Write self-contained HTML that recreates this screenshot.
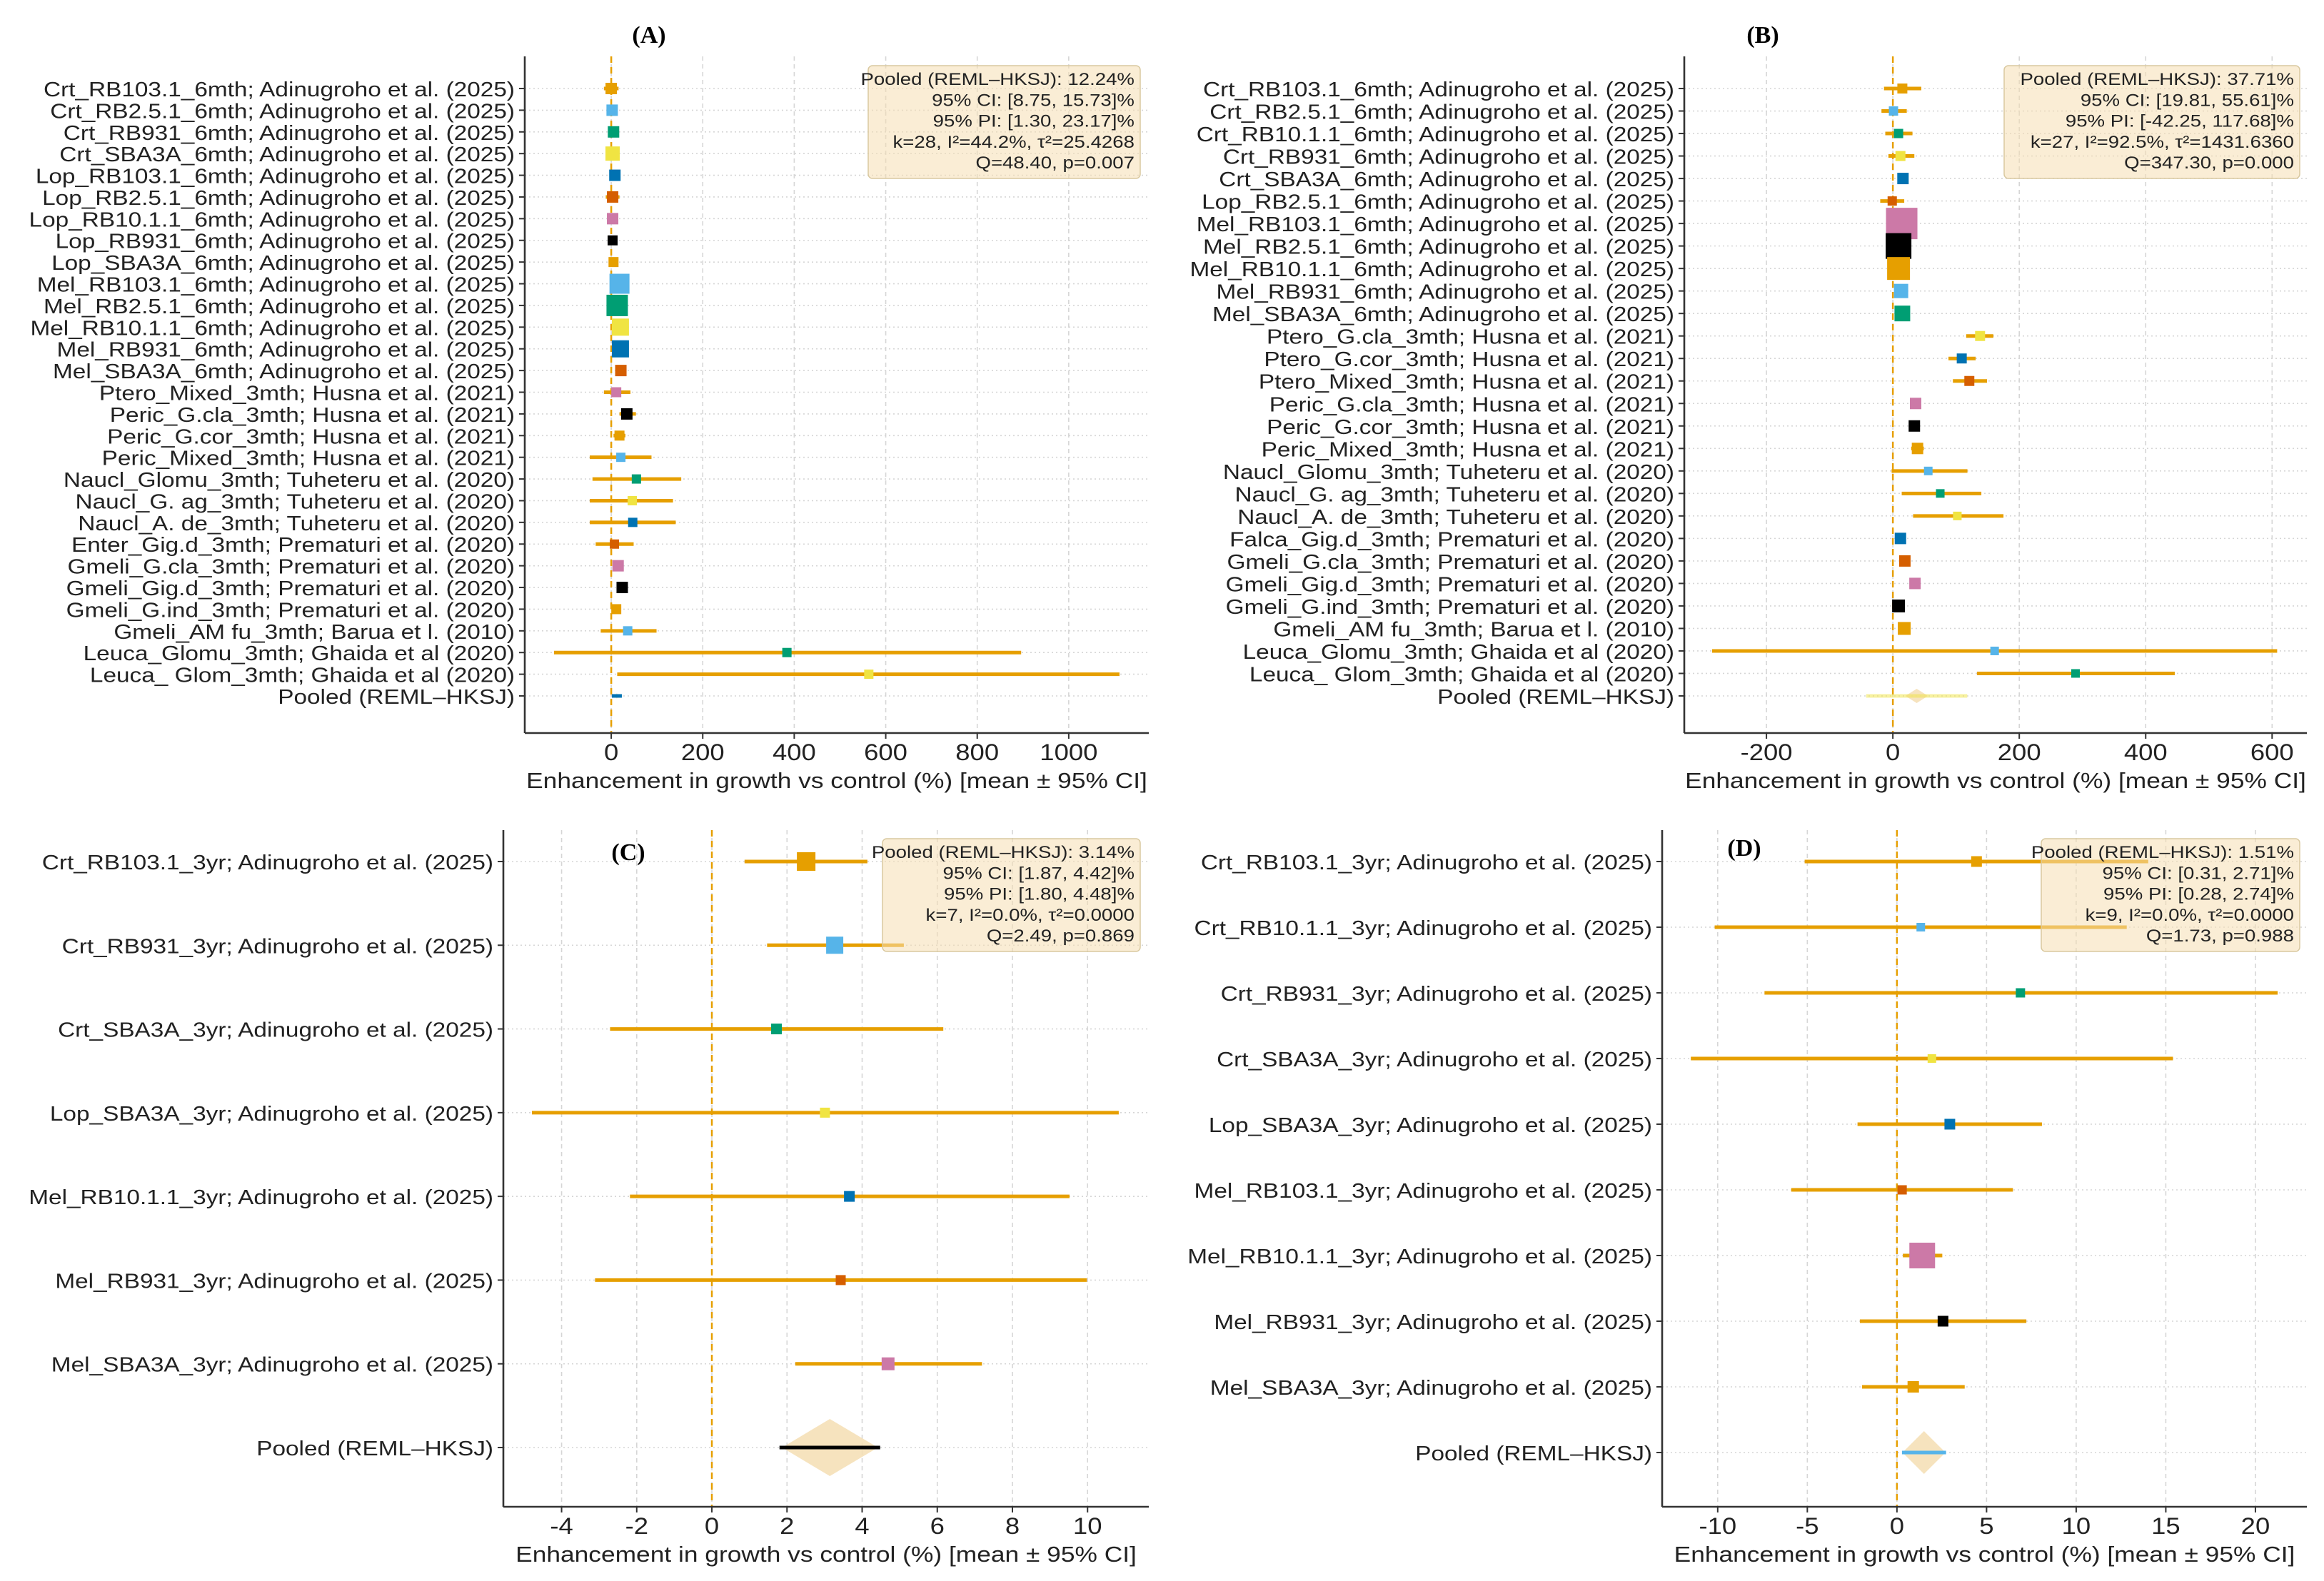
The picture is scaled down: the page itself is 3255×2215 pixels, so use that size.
<!DOCTYPE html>
<html><head><meta charset="utf-8">
<style>
html,body{margin:0;padding:0;background:#fff;}
svg{display:block;font-family:"Liberation Sans","DejaVu Sans",sans-serif;}
.sx{transform-box:fill-box;transform-origin:100% 50%;transform:scaleX(1.15);}
.sxc{transform-box:fill-box;transform-origin:50% 50%;transform:scaleX(1.14);}
</style></head>
<body>
<svg id="fig" width="3255" height="2215" viewBox="0 0 3255 2215" xmlns="http://www.w3.org/2000/svg"></svg>
<script>
// ---------- Panel A data ----------
const labelsA = ["Crt_RB103.1_6mth; Adinugroho et al. (2025)","Crt_RB2.5.1_6mth; Adinugroho et al. (2025)","Crt_RB931_6mth; Adinugroho et al. (2025)","Crt_SBA3A_6mth; Adinugroho et al. (2025)","Lop_RB103.1_6mth; Adinugroho et al. (2025)","Lop_RB2.5.1_6mth; Adinugroho et al. (2025)","Lop_RB10.1.1_6mth; Adinugroho et al. (2025)","Lop_RB931_6mth; Adinugroho et al. (2025)","Lop_SBA3A_6mth; Adinugroho et al. (2025)","Mel_RB103.1_6mth; Adinugroho et al. (2025)","Mel_RB2.5.1_6mth; Adinugroho et al. (2025)","Mel_RB10.1.1_6mth; Adinugroho et al. (2025)","Mel_RB931_6mth; Adinugroho et al. (2025)","Mel_SBA3A_6mth; Adinugroho et al. (2025)","Ptero_Mixed_3mth; Husna et al. (2021)","Peric_G.cla_3mth; Husna et al. (2021)","Peric_G.cor_3mth; Husna et al. (2021)","Peric_Mixed_3mth; Husna et al. (2021)","Naucl_Glomu_3mth; Tuheteru et al. (2020)","Naucl_G. ag_3mth; Tuheteru et al. (2020)","Naucl_A. de_3mth; Tuheteru et al. (2020)","Enter_Gig.d_3mth; Prematuri et al. (2020)","Gmeli_G.cla_3mth; Prematuri et al. (2020)","Gmeli_Gig.d_3mth; Prematuri et al. (2020)","Gmeli_G.ind_3mth; Prematuri et al. (2020)","Gmeli_AM fu_3mth; Barua et l. (2010)","Leuca_Glomu_3mth; Ghaida et al (2020)","Leuca_ Glom_3mth; Ghaida et al (2020)"];
const meansA = [0,2,5,3,8,3,3,3,5,18,13,20,20,21,11,34,18,21,55,46,47,7,15,24,11,36,384,563];
const lowA   = [-16,-6,-4,-6,-2,-12,-6,-5,-5,8,3,10,10,12,-16,18,5,-47,-41,-47,-47,-34,5,14,2,-23,-125,13];
const highA  = [16,10,14,12,18,18,12,11,15,28,23,30,30,30,42,54,31,88,153,135,141,49,25,34,20,99,896,1111];
const sizesA = [16,16,16,20,16,16,16,14,14,28,30,24,24,16,14,16,14,13,13,13,13,13,16,16,14,13,13,13];
const pooledA = [12.24, 8.75, 15.73, 1.30, 23.17];
const ticksA = [0,200,400,600,800,1000];
const legendA = ["Pooled (REML\u2013HKSJ): 12.24%","95% CI: [8.75, 15.73]%","95% PI: [1.30, 23.17]%","k=28, I\u00b2=44.2%, \u03c4\u00b2=25.4268","Q=48.40, p=0.007"];

// ---------- Panel B data ----------
const labelsB = ["Crt_RB103.1_6mth; Adinugroho et al. (2025)","Crt_RB2.5.1_6mth; Adinugroho et al. (2025)","Crt_RB10.1.1_6mth; Adinugroho et al. (2025)","Crt_RB931_6mth; Adinugroho et al. (2025)","Crt_SBA3A_6mth; Adinugroho et al. (2025)","Lop_RB2.5.1_6mth; Adinugroho et al. (2025)","Mel_RB103.1_6mth; Adinugroho et al. (2025)","Mel_RB2.5.1_6mth; Adinugroho et al. (2025)","Mel_RB10.1.1_6mth; Adinugroho et al. (2025)","Mel_RB931_6mth; Adinugroho et al. (2025)","Mel_SBA3A_6mth; Adinugroho et al. (2025)","Ptero_G.cla_3mth; Husna et al. (2021)","Ptero_G.cor_3mth; Husna et al. (2021)","Ptero_Mixed_3mth; Husna et al. (2021)","Peric_G.cla_3mth; Husna et al. (2021)","Peric_G.cor_3mth; Husna et al. (2021)","Peric_Mixed_3mth; Husna et al. (2021)","Naucl_Glomu_3mth; Tuheteru et al. (2020)","Naucl_G. ag_3mth; Tuheteru et al. (2020)","Naucl_A. de_3mth; Tuheteru et al. (2020)","Falca_Gig.d_3mth; Prematuri et al. (2020)","Gmeli_G.cla_3mth; Prematuri et al. (2020)","Gmeli_Gig.d_3mth; Prematuri et al. (2020)","Gmeli_G.ind_3mth; Prematuri et al. (2020)","Gmeli_AM fu_3mth; Barua et l. (2010)","Leuca_Glomu_3mth; Ghaida et al (2020)","Leuca_ Glom_3mth; Ghaida et al (2020)"];
const meansB = [15,1,9,12,16,-1,14,9,9,13,15,138,109,121,36,34,39,56,75,102,12,19,35,9,18,161,289];
const lowB   = [-14,-18,-12,-7,8,-20,4,0,0,5,7,116,88,95,28,26,29,-2,14,32,4,11,27,1,10,-286,133];
const highB  = [45,22,31,34,24,18,24,18,18,21,23,159,131,149,44,42,49,118,140,175,20,27,43,17,26,608,446];
const sizesB = [14,13,13,14,16,13,44,36,32,20,22,14,14,14,16,16,16,12,12,12,16,16,16,18,18,12,12];
const pooledB = [37.71, 19.81, 55.61, -42.25, 117.68];
const ticksB = [-200,0,200,400,600];
const legendB = ["Pooled (REML\u2013HKSJ): 37.71%","95% CI: [19.81, 55.61]%","95% PI: [-42.25, 117.68]%","k=27, I\u00b2=92.5%, \u03c4\u00b2=1431.6360","Q=347.30, p=0.000"];

// ---------- Panel C data ----------
const labelsC = ["Crt_RB103.1_3yr; Adinugroho et al. (2025)","Crt_RB931_3yr; Adinugroho et al. (2025)","Crt_SBA3A_3yr; Adinugroho et al. (2025)","Lop_SBA3A_3yr; Adinugroho et al. (2025)","Mel_RB10.1.1_3yr; Adinugroho et al. (2025)","Mel_RB931_3yr; Adinugroho et al. (2025)","Mel_SBA3A_3yr; Adinugroho et al. (2025)"];
const meansC = [2.51,3.27,1.72,3.01,3.66,3.43,4.69];
const lowC   = [0.87,1.47,-2.71,-4.79,-2.18,-3.11,2.22];
const highC  = [4.14,5.11,6.16,10.83,9.52,9.98,7.19];
const sizesC = [26,24,15,14,15,14,18];
const pooledC = [3.14, 1.87, 4.42, 1.80, 4.48];
const ticksC = [-4,-2,0,2,4,6,8,10];
const legendC = ["Pooled (REML\u2013HKSJ): 3.14%","95% CI: [1.87, 4.42]%","95% PI: [1.80, 4.48]%","k=7, I\u00b2=0.0%, \u03c4\u00b2=0.0000","Q=2.49, p=0.869"];

// ---------- Panel D data ----------
const labelsD = ["Crt_RB103.1_3yr; Adinugroho et al. (2025)","Crt_RB10.1.1_3yr; Adinugroho et al. (2025)","Crt_RB931_3yr; Adinugroho et al. (2025)","Crt_SBA3A_3yr; Adinugroho et al. (2025)","Lop_SBA3A_3yr; Adinugroho et al. (2025)","Mel_RB103.1_3yr; Adinugroho et al. (2025)","Mel_RB10.1.1_3yr; Adinugroho et al. (2025)","Mel_RB931_3yr; Adinugroho et al. (2025)","Mel_SBA3A_3yr; Adinugroho et al. (2025)"];
const meansD = [4.44,1.33,6.89,1.95,2.95,0.29,1.41,2.57,0.91];
const lowD   = [-5.15,-10.17,-7.39,-11.5,-2.2,-5.9,0.33,-2.07,-1.95];
const highD  = [14.02,12.82,21.24,15.4,8.09,6.47,2.53,7.22,3.78];
const sizesD = [15,12,13,12,15,13,36,15,16];
const pooledD = [1.51, 0.31, 2.71, 0.28, 2.74];
const ticksD = [-10,-5,0,5,10,15,20];
const legendD = ["Pooled (REML\u2013HKSJ): 1.51%","95% CI: [0.31, 2.71]%","95% PI: [0.28, 2.74]%","k=9, I\u00b2=0.0%, \u03c4\u00b2=0.0000","Q=1.73, p=0.988"];

const palette = ["#E69F00","#56B4E9","#009E73","#F0E442","#0072B2","#D55E00","#CC79A7","#000000"];
const NS = "http://www.w3.org/2000/svg";
const fig = document.getElementById('fig');
function mk(tag, attrs, parent){
  const e = document.createElementNS(NS, tag);
  for (const k in attrs) e.setAttribute(k, attrs[k]);
  (parent||fig).appendChild(e);
  return e;
}

function drawPanel(id, title, labels, means, lows, highs, sizes, pooled, ticks, legend, L){
  const g = mk('g', {});
  
  
  const xs = v => L.x0 + (v - L.d0) / (L.d1 - L.d0) * (L.x1 - L.x0);
  const n = labels.length;
  const ys = i => L.yFirst + i * (L.yLast - L.yFirst) / n;
  ticks.forEach(t => {
    const gl = mk('line', {x1:xs(t), x2:xs(t), y1:L.top, y2:L.bottom, stroke:'#d6d6d6', 'stroke-width':1.6, 'stroke-dasharray':'6 5'}, g);
    
    
  });
  for (let i = 0; i <= n; i++){
    const y = ys(i);
    const hl = mk('line', {x1:L.x0, x2:L.x1, y1:y, y2:y, stroke:'#d6d6d6', 'stroke-width':1.6, 'stroke-dasharray':'2 4'}, g);
    
    
    mk('line', {x1:L.x0-8, x2:L.x0, y1:y, y2:y, stroke:'#333', 'stroke-width':2}, g);
    const tx = mk('text', {x:L.x0-14, y:y+11, 'text-anchor':'end', 'font-size':L.fs, fill:'#222', class:'sx'}, g);
    tx.textContent = i < n ? labels[i] : "Pooled (REML\u2013HKSJ)";
    
    
  }
  const z = mk('line', {x1:xs(0), x2:xs(0), y1:L.top, y2:L.bottom, stroke:'#E69F00', 'stroke-width':2.5, 'stroke-dasharray':'9 6'}, g);
  
  
  const py = ys(n);
  const dia = mk('polygon', {points:`${xs(pooled[1])},${py} ${xs(pooled[0])},${py-L.dh} ${xs(pooled[2])},${py} ${xs(pooled[0])},${py+L.dh}`, fill:'#F5DEB3', 'fill-opacity':0.85}, g);
  
  
  const pl = mk('line', {x1:xs(Math.max(pooled[3], pooled[1]-3*(pooled[2]-pooled[1]))), x2:xs(Math.min(pooled[4], pooled[2]+3*(pooled[2]-pooled[1]))), y1:py, y2:py, stroke:palette[n % 8], 'stroke-width':L.plw, 'stroke-opacity':L.plo}, g);
  
  
  for (let i = 0; i < n; i++){
    const y = ys(i);
    const el = mk('line', {x1:xs(lows[i]), x2:xs(highs[i]), y1:y, y2:y, stroke:'#E69F00', 'stroke-width':5}, g);
    
    
    const s = sizes[i];
    const r = mk('rect', {x:xs(means[i]) - s/2, y:y - s/2, width:s, height:s, fill:palette[i % 8]}, g);
    
    
  }
  mk('line', {x1:L.x0, x2:L.x0, y1:L.top, y2:L.bottom, stroke:'#333', 'stroke-width':2.6}, g);
  mk('line', {x1:L.x0, x2:L.x1, y1:L.bottom, y2:L.bottom, stroke:'#333', 'stroke-width':2.6}, g);
  ticks.forEach(t => {
    mk('line', {x1:xs(t), x2:xs(t), y1:L.bottom, y2:L.bottom+8, stroke:'#333', 'stroke-width':2}, g);
    const tl = mk('text', {x:xs(t), y:L.bottom+38, 'text-anchor':'middle', 'font-size':32, fill:'#222', class:'sxc'}, g);
    tl.textContent = t < 0 ? '-' + Math.abs(t) : String(t);
    
    
  });
  const xl = mk('text', {x:(L.x0+L.x1)/2, y:L.bottom+77, 'text-anchor':'middle', 'font-size':31, fill:'#222', class:'sxc'}, g);
  xl.textContent = "Enhancement in growth vs control (%) [mean \u00b1 95% CI]";
  
  
  const lb = mk('rect', {x:L.lx, y:L.ly, width:L.lw, height:158, rx:6, fill:'#F5DEB3', 'fill-opacity':0.55, stroke:'#d9c9a0', 'stroke-width':1.5}, g);
  
  
  legend.forEach((s, k) => {
    const t = mk('text', {x:L.lx+L.lw-8, y:L.ly+27+k*29.3, 'text-anchor':'end', 'font-size':24, fill:'#222', class:'sx'}, g);
    t.textContent = s;
    
    
  });
  const tt = mk('text', {x:L.tx, y:L.ty, 'text-anchor':'middle', 'font-size':34, 'font-weight':'bold', 'font-family':'"Liberation Serif", serif', fill:'#000'}, g);
  tt.textContent = title;
  
  
}

drawPanel('a', '(A)', labelsA, meansA, lowA, highA, sizesA, pooledA, ticksA, legendA,
  {x0:735, x1:1609, d0:-189, d1:1175, top:79, bottom:1027, yFirst:124, yLast:975, fs:29, dh:4, plw:5, plo:1, lx:1216, ly:92, lw:381, tx:909, ty:60});
drawPanel('b', '(B)', labelsB, meansB, lowB, highB, sizesB, pooledB, ticksB, legendB,
  {x0:2359, x1:3231, d0:-330, d1:655, top:79, bottom:1027, yFirst:124, yLast:975, fs:29, dh:10, plw:5, plo:0.5, lx:2807, ly:92, lw:414, tx:2469, ty:60});
drawPanel('c', '(C)', labelsC, meansC, lowC, highC, sizesC, pooledC, ticksC, legendC,
  {x0:705, x1:1609, d0:-5.55, d1:11.63, top:1163, bottom:2111, yFirst:1207, yLast:2028, fs:29, dh:40, plw:5, plo:1, lx:1236, ly:1175, lw:361, tx:880, ty:1205});
drawPanel('d', '(D)', labelsD, meansD, lowD, highD, sizesD, pooledD, ticksD, legendD,
  {x0:2328, x1:3231, d0:-13.1, d1:22.87, top:1163, bottom:2111, yFirst:1207, yLast:2035, fs:29, dh:30, plw:5, plo:1, lx:2859, ly:1175, lw:362, tx:2443, ty:1199});
</script>
</body></html>
